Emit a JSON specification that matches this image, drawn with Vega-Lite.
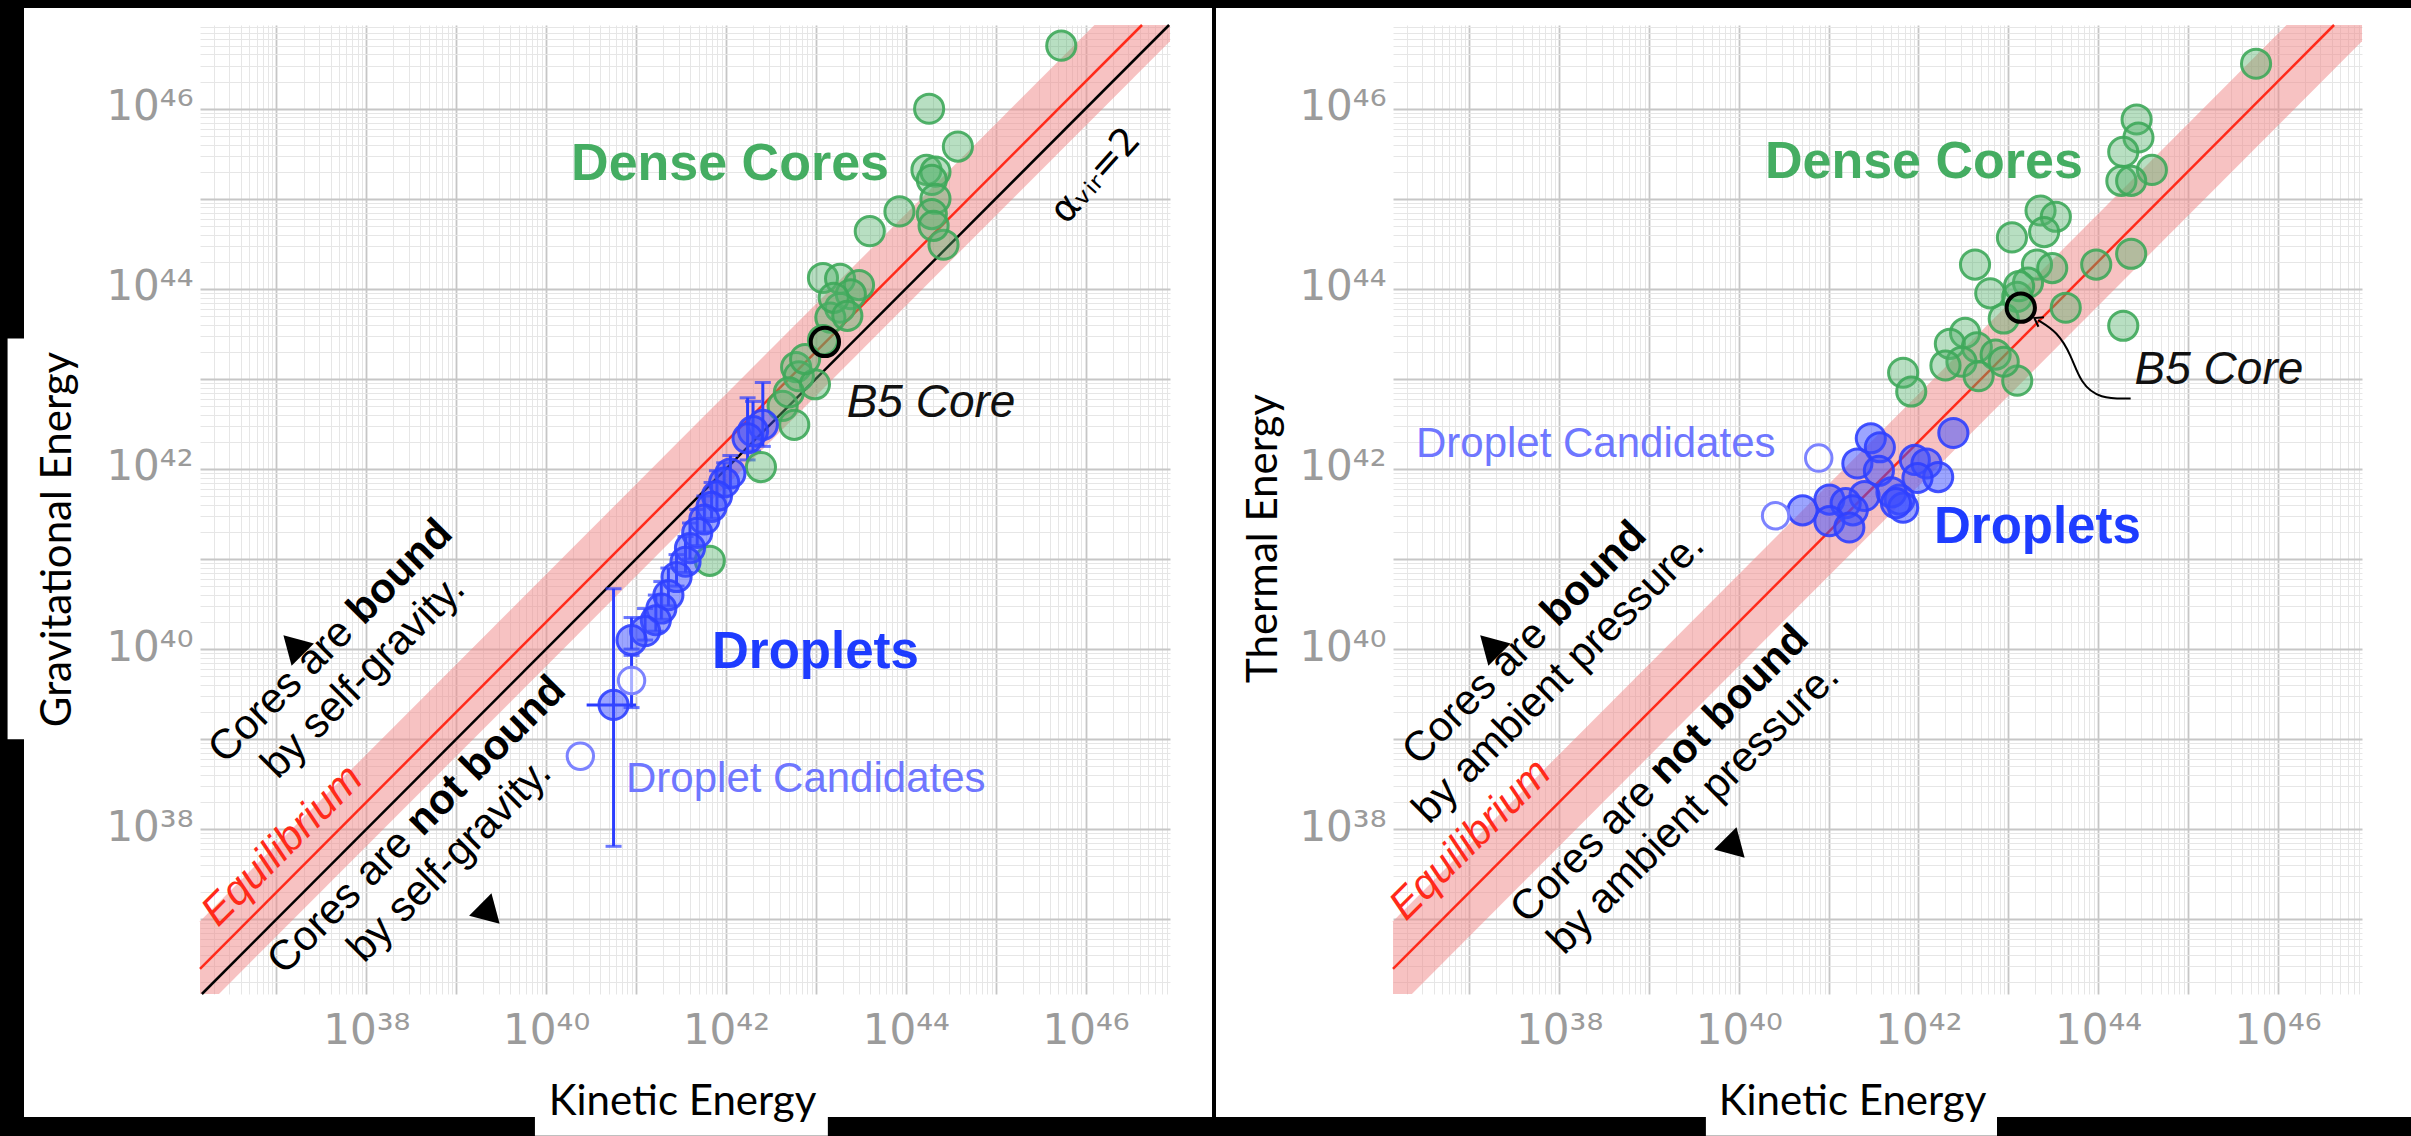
{
"$schema": "https://vega.github.io/schema/vega-lite/v6.json",
"background": "black",
"padding": {"left": 7, "top": 8, "right": 0, "bottom": 0},
"spacing": 4,
"bounds": "flush",
"config": {"view": {"stroke": null}, "axis": {"minExtent": 0}},
"datasets": {
"band": [
{"x": 1.41e36, "lo": 1.48e36, "hi": 9.53e36},
{"x": 2.29e36, "lo": 1.48e36, "hi": 1.55e37},
{"x": 1.256e46, "lo": 8.11e45, "hi": 8.5e46},
{"x": 8.7e46, "lo": 5.62e46, "hi": 8.5e46}
],
"equil": [{"x": 1.41e36, "y": 2.82e36}, {"x": 4.25e46, "y": 8.5e46}],
"alpha2": [{"x": 1.48e36, "y": 1.48e36}, {"x": 8.5e46, "y": 8.5e46}],
"grav": [
{"K": 5.37e45, "E": 5.01e46, "g": "core"},
{"K": 1.82e44, "E": 1.0e46, "g": "core"},
{"K": 3.80e44, "E": 3.80e45, "g": "core"},
{"K": 1.70e44, "E": 2.09e45, "g": "core"},
{"K": 2.14e44, "E": 2.0e45, "g": "core"},
{"K": 1.95e44, "E": 1.62e45, "g": "core"},
{"K": 2.14e44, "E": 1.0e45, "g": "core"},
{"K": 8.51e43, "E": 7.24e44, "g": "core"},
{"K": 3.98e43, "E": 4.37e44, "g": "core"},
{"K": 1.95e44, "E": 6.76e44, "g": "core"},
{"K": 2.63e44, "E": 3.09e44, "g": "core"},
{"K": 2.04e44, "E": 5.01e44, "g": "core"},
{"K": 1.20e43, "E": 1.32e44, "g": "core"},
{"K": 1.86e43, "E": 1.29e44, "g": "core"},
{"K": 3.02e43, "E": 1.10e44, "g": "core"},
{"K": 2.45e43, "E": 8.71e43, "g": "core"},
{"K": 1.86e43, "E": 6.17e43, "g": "core"},
{"K": 1.45e43, "E": 4.79e43, "g": "core"},
{"K": 1.20e43, "E": 2.69e43, "g": "core"},
{"K": 6.03e42, "E": 1.35e43, "g": "core"},
{"K": 6.46e42, "E": 1.07e43, "g": "core"},
{"K": 9.77e42, "E": 8.71e42, "g": "core"},
{"K": 4.27e42, "E": 5.01e42, "g": "core"},
{"K": 5.75e42, "E": 3.09e42, "g": "core"},
{"K": 2.45e42, "E": 1.05e42, "g": "core"},
{"K": 6.61e41, "E": 9.55e40, "g": "core"},
{"K": 1.58e43, "E": 7.94e43, "g": "core"},
{"K": 2.24e43, "E": 5.01e43, "g": "core"},
{"K": 7.59e42, "E": 1.66e43, "g": "core"},
{"K": 5.01e42, "E": 7.08e42, "g": "core"},
{"K": 2.57e42, "E": 3.09e42, "g": "drop", "lo": 1.78e42, "hi": 9.12e42},
{"K": 2.00e42, "E": 2.63e42, "g": "drop", "lo": 1.58e42, "hi": 5.62e42},
{"K": 1.74e42, "E": 2.19e42, "g": "drop", "lo": 1.26e42, "hi": 6.17e42},
{"K": 1.12e42, "E": 8.91e41, "g": "drop", "lo": 6.31e41, "hi": 1.41e42},
{"K": 9.55e41, "E": 7.08e41, "g": "drop", "lo": 5.01e41, "hi": 1.17e42},
{"K": 7.94e41, "E": 5.01e41, "g": "drop", "lo": 3.55e41, "hi": 9.55e41},
{"K": 6.92e41, "E": 3.80e41, "g": "drop", "lo": 2.82e41, "hi": 7.08e41},
{"K": 5.75e41, "E": 2.75e41, "g": "drop", "lo": 2.0e41, "hi": 5.01e41},
{"K": 4.79e41, "E": 1.95e41, "g": "drop", "lo": 1.41e41, "hi": 3.55e41},
{"K": 3.98e41, "E": 1.32e41, "g": "drop", "lo": 1.0e41, "hi": 2.51e41},
{"K": 3.55e41, "E": 9.33e40, "g": "drop", "lo": 7.08e40, "hi": 1.78e41},
{"K": 2.82e41, "E": 6.31e40, "g": "drop", "lo": 5.01e40, "hi": 1.12e41},
{"K": 2.29e41, "E": 3.98e40, "g": "drop", "lo": 3.02e40, "hi": 7.94e40},
{"K": 1.91e41, "E": 2.82e40, "g": "drop", "lo": 2.14e40, "hi": 5.62e40},
{"K": 1.66e41, "E": 2.09e40, "g": "drop", "lo": 1.58e40, "hi": 3.98e40},
{"K": 1.26e41, "E": 1.58e40, "g": "drop", "lo": 1.26e40, "hi": 2.82e40},
{"K": 8.91e40, "E": 1.26e40, "g": "drop", "lo": 1.0e40, "hi": 2.24e40},
{"K": 5.62e40, "E": 2.40e39, "g": "drop", "lo": 6.46e37, "hi": 4.68e40, "xlo": 2.82e40, "xhi": 1.0e41},
{"K": 8.91e40, "E": 4.47e39, "g": "cand", "lo": 2.24e39, "hi": 8.51e39},
{"K": 2.40e40, "E": 6.46e38, "g": "cand"},
{"K": 1.26e43, "E": 2.57e43, "g": "b5"}
],
"therm": [
{"K": 5.75e45, "E": 3.16e46, "g": "core"},
{"K": 2.69e44, "E": 7.59e45, "g": "core"},
{"K": 2.82e44, "E": 4.79e45, "g": "core"},
{"K": 1.91e44, "E": 3.31e45, "g": "core"},
{"K": 3.98e44, "E": 2.09e45, "g": "core"},
{"K": 1.82e44, "E": 1.58e45, "g": "core"},
{"K": 2.34e44, "E": 1.58e45, "g": "core"},
{"K": 2.29e43, "E": 7.41e44, "g": "core"},
{"K": 3.39e43, "E": 6.31e44, "g": "core"},
{"K": 1.10e43, "E": 3.72e44, "g": "core"},
{"K": 2.51e43, "E": 4.27e44, "g": "core"},
{"K": 2.34e44, "E": 2.45e44, "g": "core"},
{"K": 9.55e43, "E": 1.86e44, "g": "core"},
{"K": 2.09e43, "E": 1.86e44, "g": "core"},
{"K": 3.09e43, "E": 1.70e44, "g": "core"},
{"K": 4.27e42, "E": 1.86e44, "g": "core"},
{"K": 6.31e42, "E": 8.91e43, "g": "core"},
{"K": 1.66e43, "E": 1.17e44, "g": "core"},
{"K": 1.26e43, "E": 8.13e43, "g": "core"},
{"K": 4.37e43, "E": 6.17e43, "g": "core"},
{"K": 1.91e44, "E": 3.89e43, "g": "core"},
{"K": 3.31e42, "E": 3.24e43, "g": "core"},
{"K": 2.24e42, "E": 2.45e43, "g": "core"},
{"K": 4.47e42, "E": 2.24e43, "g": "core"},
{"K": 7.24e42, "E": 1.86e43, "g": "core"},
{"K": 3.02e42, "E": 1.55e43, "g": "core"},
{"K": 2.0e42, "E": 1.41e43, "g": "core"},
{"K": 8.91e42, "E": 4.68e43, "g": "core"},
{"K": 4.68e42, "E": 1.07e43, "g": "core"},
{"K": 1.26e43, "E": 9.55e42, "g": "core"},
{"K": 6.76e41, "E": 1.17e43, "g": "core"},
{"K": 8.32e41, "E": 7.24e42, "g": "core"},
{"K": 8.91e42, "E": 1.55e43, "g": "core"},
{"K": 1.32e43, "E": 1.07e44, "g": "core"},
{"K": 2.45e42, "E": 2.51e42, "g": "drop"},
{"K": 2.95e41, "E": 2.19e42, "g": "drop"},
{"K": 3.72e41, "E": 1.74e42, "g": "drop"},
{"K": 2.09e41, "E": 1.15e42, "g": "drop"},
{"K": 3.63e41, "E": 9.55e41, "g": "drop"},
{"K": 9.12e41, "E": 1.26e42, "g": "drop"},
{"K": 1.23e42, "E": 1.15e42, "g": "drop"},
{"K": 1.66e42, "E": 8.13e41, "g": "drop"},
{"K": 9.77e41, "E": 7.94e41, "g": "drop"},
{"K": 6.17e41, "E": 4.57e41, "g": "drop"},
{"K": 5.01e41, "E": 5.50e41, "g": "drop"},
{"K": 2.51e41, "E": 5.01e41, "g": "drop"},
{"K": 5.13e40, "E": 3.47e41, "g": "drop"},
{"K": 1.02e41, "E": 4.57e41, "g": "drop"},
{"K": 1.55e41, "E": 4.17e41, "g": "drop"},
{"K": 1.86e41, "E": 3.47e41, "g": "drop"},
{"K": 1.02e41, "E": 2.63e41, "g": "drop"},
{"K": 1.70e41, "E": 2.24e41, "g": "drop"},
{"K": 6.76e41, "E": 3.72e41, "g": "drop"},
{"K": 5.62e41, "E": 4.17e41, "g": "drop"},
{"K": 7.76e40, "E": 1.32e42, "g": "cand"},
{"K": 2.57e40, "E": 3.02e41, "g": "cand"},
{"K": 1.38e43, "E": 6.17e43, "g": "b5"}
],
"gtext": [
{"x": 2.67e36, "y": 5.16e38, "t": "Cores are ", "k": "rot"},
{"x": 9.31e37, "y": 1.79e40, "t": "bound", "k": "rotb"},
{"x": 1.03e37, "y": 3.49e38, "t": "by self-gravity.", "k": "rot"},
{"x": 1.21e37, "y": 2.34e36, "t": "Cores are ", "k": "rot"},
{"x": 4.22e38, "y": 8.11e37, "t": "not bound", "k": "rotb"},
{"x": 9.40e37, "y": 3.18e36, "t": "by self-gravity.", "k": "rot"},
{"x": 2.23e36, "y": 8.0e36, "t": "Equilibrium", "k": "eq"},
{"x": 1.11e42, "y": 1.61e45, "t": "Dense Cores", "k": "dense"},
{"x": 2.20e43, "y": 3.78e42, "t": "B5 Core", "k": "b5"},
{"x": 7.0e41, "y": 6.17e39, "t": "Droplets", "k": "drop"},
{"x": 7.73e40, "y": 2.59e38, "t": "Droplet Candidates", "k": "cand"},
{"x": 1.31e46, "y": 1.79e45, "t": "αᵥᵢᵣ=2", "k": "alpha"}
],
"ttext": [
{"x": 2.75e36, "y": 4.91e38, "t": "Cores are ", "k": "rot"},
{"x": 9.59e37, "y": 1.70e40, "t": "bound", "k": "rotb"},
{"x": 3.55e36, "y": 1.11e38, "t": "by ambient pressure.", "k": "rot"},
{"x": 4.38e37, "y": 8.63e36, "t": "Cores are ", "k": "rot"},
{"x": 1.53e39, "y": 2.99e38, "t": "not bound", "k": "rotb"},
{"x": 1.13e38, "y": 3.91e36, "t": "by ambient pressure.", "k": "rot"},
{"x": 1.97e36, "y": 9.31e36, "t": "Equilibrium", "k": "eq"},
{"x": 1.15e42, "y": 1.70e45, "t": "Dense Cores", "k": "dense"},
{"x": 2.55e44, "y": 8.77e42, "t": "B5 Core", "k": "b5"},
{"x": 2.54e36, "y": 1.36e42, "t": "Droplet Candidates", "k": "cand"},
{"x": 1.49e42, "y": 1.49e41, "t": "Droplets", "k": "drop"}
],
"gmark": [{"x": 1.53e37, "y": 1.11e40, "k": "in"}, {"x": 2.37e39, "y": 1.14e37, "k": "out"}],
"tmark": [{"x": 1.69e37, "y": 1.11e40, "k": "in"}, {"x": 9.06e39, "y": 6.18e37, "k": "out"}],
"arrow": [
{"x": 2.31e44, "y": 6.05e42},
{"x": 1.047e44, "y": 6.0e42},
{"x": 6.38e43, "y": 9.0e42},
{"x": 5.02e43, "y": 1.84e43},
{"x": 3.52e43, "y": 3.33e43},
{"x": 2.15e43, "y": 4.49e43}
],
"arrowhead": [{"x": 2.06e43, "y": 4.60e43}],
"gbox": [
{"x": 1.02e34, "x2": 2.3e34, "y": 1e39, "y2": 2.8e43},
{"x": 7.5e39, "x2": 1.36e43, "y": 3.95e34, "y2": 9.8e34}
],
"tbox": [
{"x": 4.3e39, "x2": 7.5e42, "y": 3.95e34, "y2": 9.8e34}
]
},
"hconcat": [
{
"width": 1188, "height": 1109,
"view": {"fill": "white", "stroke": null},
"resolve": {"axis": {"x": "independent", "y": "independent"}},
"layer": [
{"data": {"name": "band"}, "mark": {"type": "area", "color": "#f08a8a", "opacity": 0.52},
 "encoding": {
  "x": {"field": "x", "type": "quantitative", "scale": {"type": "log", "domain": [1.41e36, 8.7e46], "range": [176, 1146], "nice": false},
        "axis": {"orient": "top", "offset": 0, "grid": true, "ticks": false, "labels": false, "domain": false, "title": null, "tickCount": 60, "zindex": 0, "minExtent": 0,
                 "gridColor": {"condition": {"test": "abs(log(datum.value)/LN10 - round(log(datum.value)/LN10)) < 0.01", "value": "#c6c6c6"}, "value": "#e6e6e6"},
                 "gridWidth": {"condition": {"test": "abs(log(datum.value)/LN10 - round(log(datum.value)/LN10)) < 0.01", "value": 1.8}, "value": 1}}},
  "y": {"field": "lo", "type": "quantitative", "scale": {"type": "log", "domain": [1.48e36, 8.5e46], "range": [986, 17], "nice": false},
        "axis": {"orient": "left", "offset": 0, "grid": true, "ticks": false, "labels": false, "domain": false, "title": null, "tickCount": 60, "zindex": 0, "minExtent": 0,
                 "gridColor": {"condition": {"test": "abs(log(datum.value)/LN10 - round(log(datum.value)/LN10)) < 0.01", "value": "#c6c6c6"}, "value": "#e6e6e6"},
                 "gridWidth": {"condition": {"test": "abs(log(datum.value)/LN10 - round(log(datum.value)/LN10)) < 0.01", "value": 1.8}, "value": 1}}},
  "y2": {"field": "hi"}}},
{"data": {"name": "gbox"}, "mark": {"type": "rect", "color": "white"},
 "encoding": {
  "x": {"field": "x", "type": "quantitative", "scale": {"type": "log", "domain": [1.41e36, 8.7e46], "range": [176, 1146], "nice": false},
        "axis": {"orient": "bottom", "offset": -123, "grid": false, "ticks": false, "tickSize": 0, "domain": false, "values": [1e38, 1e40, 1e42, 1e44, 1e46],
                 "labelExpr": "'10' + ['⁰','¹','²','³','⁴','⁵','⁶','⁷','⁸','⁹'][floor(round(log(datum.value)/LN10)/10)] + ['⁰','¹','²','³','⁴','⁵','⁶','⁷','⁸','⁹'][round(log(datum.value)/LN10)%10]",
                 "labelFont": "DejaVu Sans, sans-serif", "labelFontSize": 42, "labelColor": "#9b9b9b",
                 "labelPadding": 49, "labelBaseline": "alphabetic", "labelAlign": "center", "labelOverlap": false, "labelFlush": false,
                 "title": "Kinetic Energy", "titleX": 658, "titleY": 120, "titleAlign": "center", "titleBaseline": "alphabetic", "titleAngle": 0,
                 "titleFont": "Lato, Roboto, sans-serif", "titleFontSize": 42, "titleFontWeight": "normal", "titleColor": "black", "zindex": 1, "minExtent": 0}},
  "x2": {"field": "x2"},
  "y": {"field": "y", "type": "quantitative", "scale": {"type": "log", "domain": [1.48e36, 8.5e46], "range": [986, 17], "nice": false},
        "axis": {"orient": "left", "offset": -176, "grid": false, "ticks": false, "tickSize": 0, "domain": false, "values": [1e38, 1e40, 1e42, 1e44, 1e46],
                 "labelExpr": "'10' + ['⁰','¹','²','³','⁴','⁵','⁶','⁷','⁸','⁹'][floor(round(log(datum.value)/LN10)/10)] + ['⁰','¹','²','³','⁴','⁵','⁶','⁷','⁸','⁹'][round(log(datum.value)/LN10)%10]",
                 "labelFont": "DejaVu Sans, sans-serif", "labelFontSize": 42, "labelColor": "#9b9b9b",
                 "labelPadding": 7, "labelBaseline": "alphabetic", "labelAlign": "right", "labelOffset": 11, "labelOverlap": false, "labelFlush": false,
                 "title": "Gravitational Energy", "titleX": -130, "titleY": 531, "titleAlign": "center", "titleBaseline": "alphabetic", "titleAngle": -90,
                 "titleFont": "Lato, Roboto, sans-serif", "titleFontSize": 42, "titleFontWeight": "normal", "titleColor": "black", "zindex": 1, "minExtent": 0}},
  "y2": {"field": "y2"}}},
{"data": {"name": "equil"}, "mark": {"type": "line", "color": "#ff2a1a", "strokeWidth": 2.5},
 "encoding": {"x": {"field": "x", "type": "quantitative", "axis": null}, "y": {"field": "y", "type": "quantitative", "axis": null}}},
{"data": {"name": "alpha2"}, "mark": {"type": "line", "color": "black", "strokeWidth": 2.5},
 "encoding": {"x": {"field": "x", "type": "quantitative", "axis": null}, "y": {"field": "y", "type": "quantitative", "axis": null}}},
{"data": {"name": "grav"}, "transform": [{"filter": "isValid(datum.lo)"}], "mark": {"type": "rule", "color": "#2b3dff", "strokeWidth": 3},
 "encoding": {"x": {"field": "K", "type": "quantitative", "axis": null}, "y": {"field": "lo", "type": "quantitative", "axis": null}, "y2": {"field": "hi"}}},
{"data": {"name": "grav"}, "transform": [{"filter": "isValid(datum.lo)"}], "mark": {"type": "tick", "orient": "horizontal", "color": "#2b3dff", "size": 16, "thickness": 3},
 "encoding": {"x": {"field": "K", "type": "quantitative", "axis": null}, "y": {"field": "lo", "type": "quantitative", "axis": null}}},
{"data": {"name": "grav"}, "transform": [{"filter": "isValid(datum.hi)"}], "mark": {"type": "tick", "orient": "horizontal", "color": "#2b3dff", "size": 16, "thickness": 3},
 "encoding": {"x": {"field": "K", "type": "quantitative", "axis": null}, "y": {"field": "hi", "type": "quantitative", "axis": null}}},
{"data": {"name": "grav"}, "transform": [{"filter": "isValid(datum.xlo)"}], "mark": {"type": "rule", "color": "#2b3dff", "strokeWidth": 3},
 "encoding": {"x": {"field": "xlo", "type": "quantitative", "axis": null}, "x2": {"field": "xhi"}, "y": {"field": "E", "type": "quantitative", "axis": null}}},
{"data": {"name": "grav"}, "transform": [{"filter": "datum.g === 'core'"}], "mark": {"type": "point", "shape": "circle", "filled": true, "size": 850, "fill": "#56b36e", "fillOpacity": 0.42, "stroke": "#3ea95a", "strokeWidth": 3, "strokeOpacity": 0.9},
 "encoding": {"x": {"field": "K", "type": "quantitative", "axis": null}, "y": {"field": "E", "type": "quantitative", "axis": null}}},
{"data": {"name": "grav"}, "transform": [{"filter": "datum.g === 'drop'"}], "mark": {"type": "point", "shape": "circle", "filled": true, "size": 850, "fill": "#3a4cff", "fillOpacity": 0.5, "stroke": "#2f40ff", "strokeWidth": 3, "strokeOpacity": 0.9},
 "encoding": {"x": {"field": "K", "type": "quantitative", "axis": null}, "y": {"field": "E", "type": "quantitative", "axis": null}}},
{"data": {"name": "grav"}, "transform": [{"filter": "datum.g === 'cand'"}], "mark": {"type": "point", "shape": "circle", "filled": true, "size": 700, "fill": "white", "fillOpacity": 0.6, "stroke": "#7c83ff", "strokeWidth": 3},
 "encoding": {"x": {"field": "K", "type": "quantitative", "axis": null}, "y": {"field": "E", "type": "quantitative", "axis": null}}},
{"data": {"name": "grav"}, "transform": [{"filter": "datum.g === 'b5'"}], "mark": {"type": "point", "shape": "circle", "filled": true, "size": 800, "fill": "#56b36e", "fillOpacity": 0.3, "stroke": "black", "strokeWidth": 4},
 "encoding": {"x": {"field": "K", "type": "quantitative", "axis": null}, "y": {"field": "E", "type": "quantitative", "axis": null}}},
{"data": {"name": "gmark"}, "transform": [{"filter": "datum.k === 'in'"}], "mark": {"type": "point", "shape": "triangle-up", "filled": true, "size": 1000, "color": "black", "opacity": 1, "angle": -45},
 "encoding": {"x": {"field": "x", "type": "quantitative", "axis": null}, "y": {"field": "y", "type": "quantitative", "axis": null}}},
{"data": {"name": "gmark"}, "transform": [{"filter": "datum.k === 'out'"}], "mark": {"type": "point", "shape": "triangle-up", "filled": true, "size": 1000, "color": "black", "opacity": 1, "angle": 135},
 "encoding": {"x": {"field": "x", "type": "quantitative", "axis": null}, "y": {"field": "y", "type": "quantitative", "axis": null}}},
{"data": {"name": "gtext"}, "transform": [{"filter": "datum.k === 'rot'"}], "mark": {"type": "text", "angle": -45, "align": "left", "baseline": "alphabetic", "font": "Liberation Sans, Arial, sans-serif", "fontSize": 42, "color": "black"},
 "encoding": {"x": {"field": "x", "type": "quantitative", "axis": null}, "y": {"field": "y", "type": "quantitative", "axis": null}, "text": {"field": "t"}}},
{"data": {"name": "gtext"}, "transform": [{"filter": "datum.k === 'rotb'"}], "mark": {"type": "text", "angle": -45, "align": "left", "baseline": "alphabetic", "font": "Liberation Sans, Arial, sans-serif", "fontSize": 42, "fontWeight": "bold", "color": "black"},
 "encoding": {"x": {"field": "x", "type": "quantitative", "axis": null}, "y": {"field": "y", "type": "quantitative", "axis": null}, "text": {"field": "t"}}},
{"data": {"name": "gtext"}, "transform": [{"filter": "datum.k === 'eq'"}], "mark": {"type": "text", "angle": -45, "align": "left", "baseline": "alphabetic", "font": "Liberation Sans, Arial, sans-serif", "fontSize": 42, "fontStyle": "italic", "color": "#ff2a1a"},
 "encoding": {"x": {"field": "x", "type": "quantitative", "axis": null}, "y": {"field": "y", "type": "quantitative", "axis": null}, "text": {"field": "t"}}},
{"data": {"name": "gtext"}, "transform": [{"filter": "datum.k === 'dense'"}], "mark": {"type": "text", "align": "center", "baseline": "alphabetic", "font": "Liberation Sans, Arial, sans-serif", "fontSize": 52, "fontWeight": "bold", "color": "#45ad62"},
 "encoding": {"x": {"field": "x", "type": "quantitative", "axis": null}, "y": {"field": "y", "type": "quantitative", "axis": null}, "text": {"field": "t"}}},
{"data": {"name": "gtext"}, "transform": [{"filter": "datum.k === 'b5'"}], "mark": {"type": "text", "align": "left", "baseline": "alphabetic", "font": "Liberation Sans, Arial, sans-serif", "fontSize": 46, "fontStyle": "italic", "color": "#111111"},
 "encoding": {"x": {"field": "x", "type": "quantitative", "axis": null}, "y": {"field": "y", "type": "quantitative", "axis": null}, "text": {"field": "t"}}},
{"data": {"name": "gtext"}, "transform": [{"filter": "datum.k === 'drop'"}], "mark": {"type": "text", "align": "left", "baseline": "alphabetic", "font": "Liberation Sans, Arial, sans-serif", "fontSize": 51, "fontWeight": "bold", "color": "#1e3cff"},
 "encoding": {"x": {"field": "x", "type": "quantitative", "axis": null}, "y": {"field": "y", "type": "quantitative", "axis": null}, "text": {"field": "t"}}},
{"data": {"name": "gtext"}, "transform": [{"filter": "datum.k === 'cand'"}], "mark": {"type": "text", "align": "left", "baseline": "alphabetic", "font": "Liberation Sans, Arial, sans-serif", "fontSize": 42, "color": "#6f77ff"},
 "encoding": {"x": {"field": "x", "type": "quantitative", "axis": null}, "y": {"field": "y", "type": "quantitative", "axis": null}, "text": {"field": "t"}}},
{"data": {"name": "gtext"}, "transform": [{"filter": "datum.k === 'alpha'"}], "mark": {"type": "text", "angle": -48, "align": "center", "baseline": "middle", "font": "DejaVu Sans, sans-serif", "fontSize": 38, "color": "black"},
 "encoding": {"x": {"field": "x", "type": "quantitative", "axis": null}, "y": {"field": "y", "type": "quantitative", "axis": null}, "text": {"field": "t"}}}
]
},
{
"width": 1195, "height": 1109,
"view": {"fill": "white", "stroke": null},
"resolve": {"axis": {"x": "independent", "y": "independent"}},
"layer": [
{"data": {"name": "band"}, "mark": {"type": "area", "color": "#f08a8a", "opacity": 0.52},
 "encoding": {
  "x": {"field": "x", "type": "quantitative", "scale": {"type": "log", "domain": [1.41e36, 8.7e46], "range": [177, 1146], "nice": false},
        "axis": {"orient": "top", "offset": 0, "grid": true, "ticks": false, "labels": false, "domain": false, "title": null, "tickCount": 60, "zindex": 0, "minExtent": 0,
                 "gridColor": {"condition": {"test": "abs(log(datum.value)/LN10 - round(log(datum.value)/LN10)) < 0.01", "value": "#c6c6c6"}, "value": "#e6e6e6"},
                 "gridWidth": {"condition": {"test": "abs(log(datum.value)/LN10 - round(log(datum.value)/LN10)) < 0.01", "value": 1.8}, "value": 1}}},
  "y": {"field": "lo", "type": "quantitative", "scale": {"type": "log", "domain": [1.48e36, 8.5e46], "range": [986, 17], "nice": false},
        "axis": {"orient": "left", "offset": 0, "grid": true, "ticks": false, "labels": false, "domain": false, "title": null, "tickCount": 60, "zindex": 0, "minExtent": 0,
                 "gridColor": {"condition": {"test": "abs(log(datum.value)/LN10 - round(log(datum.value)/LN10)) < 0.01", "value": "#c6c6c6"}, "value": "#e6e6e6"},
                 "gridWidth": {"condition": {"test": "abs(log(datum.value)/LN10 - round(log(datum.value)/LN10)) < 0.01", "value": 1.8}, "value": 1}}},
  "y2": {"field": "hi"}}},
{"data": {"name": "tbox"}, "mark": {"type": "rect", "color": "white"},
 "encoding": {
  "x": {"field": "x", "type": "quantitative", "scale": {"type": "log", "domain": [1.41e36, 8.7e46], "range": [177, 1146], "nice": false},
        "axis": {"orient": "bottom", "offset": -123, "grid": false, "ticks": false, "tickSize": 0, "domain": false, "values": [1e38, 1e40, 1e42, 1e44, 1e46],
                 "labelExpr": "'10' + ['⁰','¹','²','³','⁴','⁵','⁶','⁷','⁸','⁹'][floor(round(log(datum.value)/LN10)/10)] + ['⁰','¹','²','³','⁴','⁵','⁶','⁷','⁸','⁹'][round(log(datum.value)/LN10)%10]",
                 "labelFont": "DejaVu Sans, sans-serif", "labelFontSize": 42, "labelColor": "#9b9b9b",
                 "labelPadding": 49, "labelBaseline": "alphabetic", "labelAlign": "center", "labelOverlap": false, "labelFlush": false,
                 "title": "Kinetic Energy", "titleX": 636, "titleY": 120, "titleAlign": "center", "titleBaseline": "alphabetic", "titleAngle": 0,
                 "titleFont": "Lato, Roboto, sans-serif", "titleFontSize": 42, "titleFontWeight": "normal", "titleColor": "black", "zindex": 1, "minExtent": 0}},
  "x2": {"field": "x2"},
  "y": {"field": "y", "type": "quantitative", "scale": {"type": "log", "domain": [1.48e36, 8.5e46], "range": [986, 17], "nice": false},
        "axis": {"orient": "left", "offset": -177, "grid": false, "ticks": false, "tickSize": 0, "domain": false, "values": [1e38, 1e40, 1e42, 1e44, 1e46],
                 "labelExpr": "'10' + ['⁰','¹','²','³','⁴','⁵','⁶','⁷','⁸','⁹'][floor(round(log(datum.value)/LN10)/10)] + ['⁰','¹','²','³','⁴','⁵','⁶','⁷','⁸','⁹'][round(log(datum.value)/LN10)%10]",
                 "labelFont": "DejaVu Sans, sans-serif", "labelFontSize": 42, "labelColor": "#9b9b9b",
                 "labelPadding": 7, "labelBaseline": "alphabetic", "labelAlign": "right", "labelOffset": 11, "labelOverlap": false, "labelFlush": false,
                 "title": "Thermal Energy", "titleX": -117, "titleY": 530, "titleAlign": "center", "titleBaseline": "alphabetic", "titleAngle": -90,
                 "titleFont": "Lato, Roboto, sans-serif", "titleFontSize": 42, "titleFontWeight": "normal", "titleColor": "black", "zindex": 1, "minExtent": 0}},
  "y2": {"field": "y2"}}},
{"data": {"name": "equil"}, "mark": {"type": "line", "color": "#ff2a1a", "strokeWidth": 2.5},
 "encoding": {"x": {"field": "x", "type": "quantitative", "axis": null}, "y": {"field": "y", "type": "quantitative", "axis": null}}},
{"data": {"name": "therm"}, "transform": [{"filter": "datum.g === 'core'"}], "mark": {"type": "point", "shape": "circle", "filled": true, "size": 850, "fill": "#56b36e", "fillOpacity": 0.42, "stroke": "#3ea95a", "strokeWidth": 3, "strokeOpacity": 0.9},
 "encoding": {"x": {"field": "K", "type": "quantitative", "axis": null}, "y": {"field": "E", "type": "quantitative", "axis": null}}},
{"data": {"name": "therm"}, "transform": [{"filter": "datum.g === 'drop'"}], "mark": {"type": "point", "shape": "circle", "filled": true, "size": 850, "fill": "#3a4cff", "fillOpacity": 0.5, "stroke": "#2f40ff", "strokeWidth": 3, "strokeOpacity": 0.9},
 "encoding": {"x": {"field": "K", "type": "quantitative", "axis": null}, "y": {"field": "E", "type": "quantitative", "axis": null}}},
{"data": {"name": "therm"}, "transform": [{"filter": "datum.g === 'cand'"}], "mark": {"type": "point", "shape": "circle", "filled": true, "size": 700, "fill": "white", "fillOpacity": 0.6, "stroke": "#7c83ff", "strokeWidth": 3},
 "encoding": {"x": {"field": "K", "type": "quantitative", "axis": null}, "y": {"field": "E", "type": "quantitative", "axis": null}}},
{"data": {"name": "therm"}, "transform": [{"filter": "datum.g === 'b5'"}], "mark": {"type": "point", "shape": "circle", "filled": true, "size": 800, "fill": "#56b36e", "fillOpacity": 0.5, "stroke": "black", "strokeWidth": 4},
 "encoding": {"x": {"field": "K", "type": "quantitative", "axis": null}, "y": {"field": "E", "type": "quantitative", "axis": null}}},
{"data": {"name": "arrow"}, "mark": {"type": "line", "color": "black", "strokeWidth": 2, "interpolate": "basis"},
 "encoding": {"x": {"field": "x", "type": "quantitative", "axis": null}, "y": {"field": "y", "type": "quantitative", "axis": null}}},
{"data": {"name": "arrowhead"}, "mark": {"type": "point", "shape": "M-0.7,0.7L0,-0.3L0.7,0.7", "filled": false, "size": 250, "color": "black", "strokeWidth": 2, "opacity": 1, "angle": -60},
 "encoding": {"x": {"field": "x", "type": "quantitative", "axis": null}, "y": {"field": "y", "type": "quantitative", "axis": null}}},
{"data": {"name": "tmark"}, "transform": [{"filter": "datum.k === 'in'"}], "mark": {"type": "point", "shape": "triangle-up", "filled": true, "size": 1000, "color": "black", "opacity": 1, "angle": -45},
 "encoding": {"x": {"field": "x", "type": "quantitative", "axis": null}, "y": {"field": "y", "type": "quantitative", "axis": null}}},
{"data": {"name": "tmark"}, "transform": [{"filter": "datum.k === 'out'"}], "mark": {"type": "point", "shape": "triangle-up", "filled": true, "size": 1000, "color": "black", "opacity": 1, "angle": 135},
 "encoding": {"x": {"field": "x", "type": "quantitative", "axis": null}, "y": {"field": "y", "type": "quantitative", "axis": null}}},
{"data": {"name": "ttext"}, "transform": [{"filter": "datum.k === 'rot'"}], "mark": {"type": "text", "angle": -45, "align": "left", "baseline": "alphabetic", "font": "Liberation Sans, Arial, sans-serif", "fontSize": 42, "color": "black"},
 "encoding": {"x": {"field": "x", "type": "quantitative", "axis": null}, "y": {"field": "y", "type": "quantitative", "axis": null}, "text": {"field": "t"}}},
{"data": {"name": "ttext"}, "transform": [{"filter": "datum.k === 'rotb'"}], "mark": {"type": "text", "angle": -45, "align": "left", "baseline": "alphabetic", "font": "Liberation Sans, Arial, sans-serif", "fontSize": 42, "fontWeight": "bold", "color": "black"},
 "encoding": {"x": {"field": "x", "type": "quantitative", "axis": null}, "y": {"field": "y", "type": "quantitative", "axis": null}, "text": {"field": "t"}}},
{"data": {"name": "ttext"}, "transform": [{"filter": "datum.k === 'eq'"}], "mark": {"type": "text", "angle": -45, "align": "left", "baseline": "alphabetic", "font": "Liberation Sans, Arial, sans-serif", "fontSize": 42, "fontStyle": "italic", "color": "#ff2a1a"},
 "encoding": {"x": {"field": "x", "type": "quantitative", "axis": null}, "y": {"field": "y", "type": "quantitative", "axis": null}, "text": {"field": "t"}}},
{"data": {"name": "ttext"}, "transform": [{"filter": "datum.k === 'dense'"}], "mark": {"type": "text", "align": "center", "baseline": "alphabetic", "font": "Liberation Sans, Arial, sans-serif", "fontSize": 52, "fontWeight": "bold", "color": "#45ad62"},
 "encoding": {"x": {"field": "x", "type": "quantitative", "axis": null}, "y": {"field": "y", "type": "quantitative", "axis": null}, "text": {"field": "t"}}},
{"data": {"name": "ttext"}, "transform": [{"filter": "datum.k === 'b5'"}], "mark": {"type": "text", "align": "left", "baseline": "alphabetic", "font": "Liberation Sans, Arial, sans-serif", "fontSize": 46, "fontStyle": "italic", "color": "#111111"},
 "encoding": {"x": {"field": "x", "type": "quantitative", "axis": null}, "y": {"field": "y", "type": "quantitative", "axis": null}, "text": {"field": "t"}}},
{"data": {"name": "ttext"}, "transform": [{"filter": "datum.k === 'drop'"}], "mark": {"type": "text", "align": "left", "baseline": "alphabetic", "font": "Liberation Sans, Arial, sans-serif", "fontSize": 51, "fontWeight": "bold", "color": "#1e3cff"},
 "encoding": {"x": {"field": "x", "type": "quantitative", "axis": null}, "y": {"field": "y", "type": "quantitative", "axis": null}, "text": {"field": "t"}}},
{"data": {"name": "ttext"}, "transform": [{"filter": "datum.k === 'cand'"}], "mark": {"type": "text", "align": "left", "baseline": "alphabetic", "font": "Liberation Sans, Arial, sans-serif", "fontSize": 42, "color": "#6f77ff"},
 "encoding": {"x": {"field": "x", "type": "quantitative", "axis": null}, "y": {"field": "y", "type": "quantitative", "axis": null}, "text": {"field": "t"}}}
]
}
]
}
